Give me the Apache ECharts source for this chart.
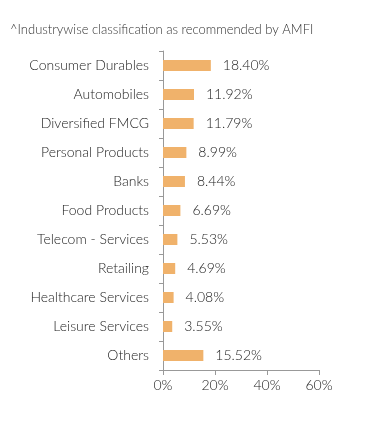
<!DOCTYPE html>
<html><head><meta charset="utf-8">
<script src="https://cdn.jsdelivr.net/npm/echarts@6/dist/echarts.min.js"></script>
<style>html,body{margin:0;padding:0;background:#fff}#c{width:391px;height:424px}</style>
</head><body><div id="c"></div>
<script>
const categories = ["Consumer Durables","Automobiles","Diversified FMCG","Personal Products","Banks","Food Products","Telecom - Services","Retailing","Healthcare Services","Leisure Services","Others"];
const values = [18.40,11.92,11.79,8.99,8.44,6.69,5.53,4.69,4.08,3.55,15.52];
const xTicks = [0,20,40,60];
const chart = echarts.init(document.getElementById('c'));
const font = 'Lato';
chart.setOption({
  animation:false,
  title:{text:'^Industrywise classification as recommended by AMFI',left:5,top:18,
    textStyle:{fontFamily:font,fontSize:13,fontWeight:300,color:'#333'}},
  grid:{left:163,right:72,top:51,bottom:54,containLabel:false},
  xAxis:{type:'value',min:xTicks[0],max:xTicks[xTicks.length-1],interval:20,
    axisLine:{show:true,lineStyle:{color:'#999'}},
    axisTick:{show:true,length:5,lineStyle:{color:'#999'}},
    splitLine:{show:false},
    axisLabel:{formatter:v=>v+'%',fontFamily:font,fontWeight:300,fontSize:14,color:'#222',margin:8}},
  yAxis:{type:'category',data:categories,inverse:true,
    axisLine:{show:true,lineStyle:{color:'#999'}},
    axisTick:{show:true,length:4,lineStyle:{color:'#999'}},
    axisLabel:{fontFamily:font,fontWeight:300,fontSize:14,color:'#222',margin:14}},
  series:[{type:'bar',data:values,barWidth:11,
    itemStyle:{color:'#F0B26B'},
    label:{show:true,position:'right',distance:12,formatter:p=>p.value.toFixed(2)+'%',
      fontFamily:font,fontWeight:300,fontSize:14,color:'#222'}}]
});
</script></body></html>
